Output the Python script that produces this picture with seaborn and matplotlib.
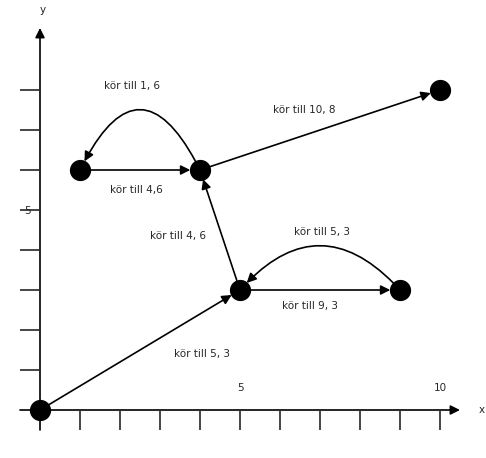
import matplotlib
matplotlib.use("Agg")
import matplotlib.pyplot as plt
import pandas as pd
import seaborn as sns

# points of the route
px = [0, 1, 4, 5, 9, 10]
py = [0, 6, 6, 3, 3, 8]

# moves: (start, end, curvature, label, label position)
starts = [(0, 0), (5, 3), (1, 6), (4, 6), (4, 6), (5, 3), (9, 3)]
ends = [(5, 3), (4, 6), (4, 6), (1, 6), (10, 8), (9, 3), (5, 3)]
rads = [0, 0, 0, 1.0, 0, 0, 0.55]
labels = ["kör till 5, 3", "kör till 4, 6", "kör till 4,6", "kör till 1, 6",
          "kör till 10, 8", "kör till 9, 3", "kör till 5, 3"]
label_pos = [(4.05, 1.4), (3.45, 4.35), (2.4, 5.5), (2.3, 8.1),
             (6.6, 7.5), (6.75, 2.6), (7.05, 4.45)]

sns.set_style("white")
plt.rcParams["font.family"] = ["DejaVu Sans"]

fig = plt.figure(figsize=(4.86, 4.58), dpi=100)
ax = fig.add_axes([0, 0, 1, 1])
ax.set_xlim(-1, 11.15)
ax.set_ylim(-1.2, 10.25)
for s in ax.spines.values():
    s.set_visible(False)

sns.scatterplot(data=pd.DataFrame({"x": px, "y": py}), x="x", y="y",
                s=200, color="black", edgecolor="black", zorder=5, ax=ax)

arrow = dict(arrowstyle="-|>", color="black", lw=1.2, mutation_scale=14)
for (x1, y1), (x2, y2), r in zip(starts, ends, rads):
    ax.annotate("", xy=(x2, y2), xytext=(x1, y1),
                arrowprops=dict(arrow, shrinkA=7, shrinkB=7,
                                connectionstyle=f"arc3,rad={r}"))
for t, (lx, ly) in zip(labels, label_pos):
    ax.text(lx, ly, t, fontsize=7.5, ha="center", va="center")

# axes with arrow heads
ax.annotate("", xy=(0, 9.55), xytext=(0, -0.5),
            arrowprops=dict(arrow, shrinkA=0, shrinkB=0))
ax.annotate("", xy=(10.5, 0), xytext=(-0.5, 0),
            arrowprops=dict(arrow, shrinkA=0, shrinkB=0))

ax.set_xticks(range(1, 11))
ax.set_xticklabels(["5" if i == 5 else "10" if i == 10 else "" for i in range(1, 11)])
ax.set_yticks(range(1, 9))
ax.set_yticklabels(["5" if i == 5 else "" for i in range(1, 9)])
ax.tick_params(axis="x", direction="in", length=14, width=1.2, pad=-34,
               labelsize=7.5, bottom=True)
ax.tick_params(axis="y", direction="in", length=14, width=1.2, pad=-8,
               labelsize=7.5, left=True)
# place ticks hanging from the drawn axes
ax.spines["left"].set_position(("data", -0.5))
ax.spines["bottom"].set_position(("data", -0.5))
ax.set_xlabel("")
ax.set_ylabel("")
ax.text(11.05, 0, "x", fontsize=7.5, ha="center", va="center")
ax.text(0.07, 10.0, "y", fontsize=7.5, ha="center", va="center")

fig.savefig("out.png", dpi=100)
